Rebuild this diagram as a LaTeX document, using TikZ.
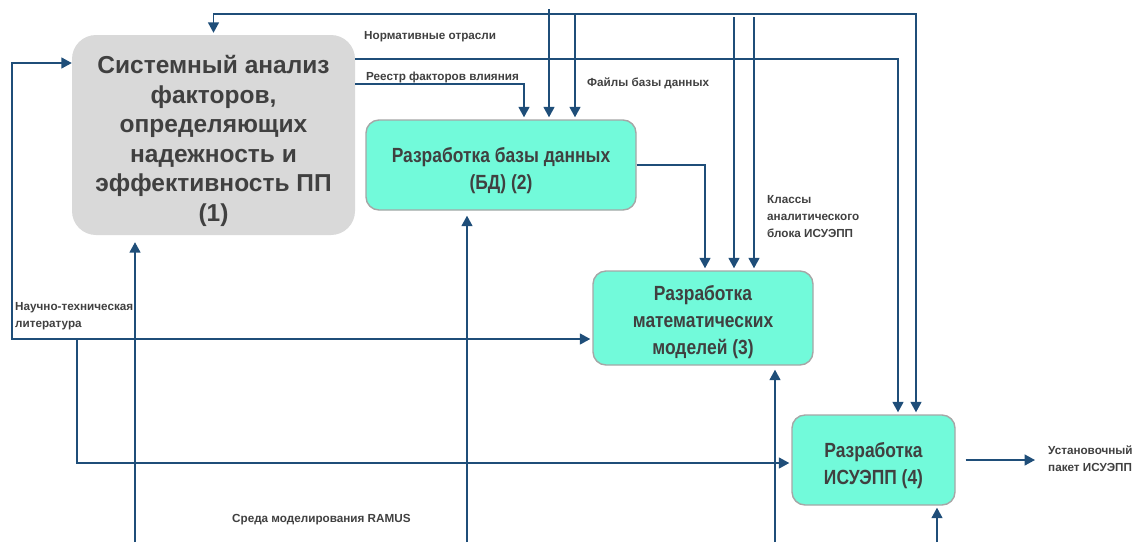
\documentclass[tikz,border=0pt]{standalone}
\usepackage{fontspec}
\setmainfont{Liberation Sans}
\newfontfamily\narrowsans{Liberation Sans}[FakeStretch=0.85]
\usetikzlibrary{arrows.meta}

\definecolor{linkblue}{RGB}{31,78,121}
\definecolor{tealfill}{RGB}{114,250,218}
\definecolor{grayfill}{RGB}{217,217,217}
\definecolor{textgray}{RGB}{64,64,64}

% strut on the first line pushes a block text a little down
\newcommand{\lowtop}[1]{\rule{0pt}{#1}}

\tikzset{
    link/.style={draw=linkblue, line width=1.6pt, shorten >=2pt, shorten <=0pt},
    process/.style={rounded corners=13pt, draw=black!35, line width=1.4pt, fill=tealfill,
        text=textgray, align=center, inner sep=0pt,
        font={\narrowsans\bfseries\fontsize{20.5}{27}\selectfont}},
    flowtext/.style={anchor=west, inner sep=0pt, align=left, text=textgray,
        font={\bfseries\fontsize{11.7}{17}\selectfont}},
}

\begin{document}
\begin{tikzpicture}[x=1pt, y=-1pt, >={Triangle[length=10.5pt, width=11pt]}]
    \useasboundingbox (0,0) rectangle (1135,542);

    % blocks
    \node[rounded corners=24pt, fill=grayfill, minimum width=283pt, minimum height=200pt,
        text=textgray, align=center, inner sep=0pt, font={\bfseries\fontsize{24.5}{29.5}\selectfont}]
        (sa) at (213.5,135) {\lowtop{30pt}Системный анализ\\факторов,\\определяющих\\надежность и\\эффективность ПП\\(1)};
    \node[process, minimum width=270pt, minimum height=90pt] (bd) at (501,165) {\lowtop{26pt}Разработка базы данных\\(БД) (2)};
    \node[process, minimum width=220pt, minimum height=94pt] (mm) at (703,318) {\lowtop{24pt}Разработка\\математических\\моделей (3)};
    \node[process, minimum width=163pt, minimum height=90pt] (isu) at (873.5,460) {\lowtop{27pt}Разработка\\ИСУЭПП (4)};

    % free ends
    \coordinate (topR) at (916,14);
    \coordinate (f1) at (549,9);
    \coordinate (f2) at (575,13);
    \coordinate (k1) at (734,17);
    \coordinate (k2) at (754,17);
    \coordinate (litL) at (12,339);
    \coordinate (litJ) at (77,339);
    \coordinate (r1) at (135,542);
    \coordinate (r2) at (467,542);
    \coordinate (r3) at (775,542);
    \coordinate (r4) at (937,542);
    \coordinate (outE) at (1037,460);

    % connectors
    \draw[link, <->, shorten <=2pt] (sa.north) |- (topR) -- (topR |- isu.north);
    \draw[link, ->] (sa.east |- 0,59) -| ([xshift=24.5pt]isu.north);
    \draw[link, ->] (sa.east |- 0,84) -| ([xshift=23pt]bd.north);
    \foreach \c in {f1, f2}
        \draw[link, ->] (\c) -- (\c |- bd.north);
    \foreach \c in {k1, k2}
        \draw[link, ->] (\c) -- (\c |- mm.north);
    \draw[link, ->] (bd.east) -| ([xshift=2pt]mm.north);
    \draw[link, <->] (sa.west |- 0,63) -| (litL) -- (litL -| mm.west);
    \draw[link, ->] (litJ) |- (isu.west |- 0,463);
    \draw[link, ->, shorten >=7pt] (r1) -- (r1 |- sa.south);
    \draw[link, ->, shorten >=5pt] (r2) -- (r2 |- bd.south);
    \draw[link, ->, shorten >=4pt] (r3) -- (r3 |- mm.south);
    \draw[link, ->] (r4) -- (r4 |- isu.south);
    \draw[link, ->, shorten <=10pt] (isu.east) -- (outE);

    % labels
    \node[flowtext] (normt) at (364,37) {Нормативные отрасли};
    \node[flowtext] (reestrt) at (366,77) {Реестр факторов влияния};
    \node[flowtext] (filest) at (587,83) {Файлы базы данных};
    \node[flowtext] (classt) at (767,217) {Классы\\аналитического\\блока ИСУЭПП};
    \node[flowtext] (litt) at (15,316.5) {Научно-техническая\\литература};
    \node[flowtext] (ramust) at (232,520) {Среда моделирования RAMUS};
    \node[flowtext] (outt) at (1048,459) {Установочный\\пакет ИСУЭПП};
\end{tikzpicture}
\end{document}
